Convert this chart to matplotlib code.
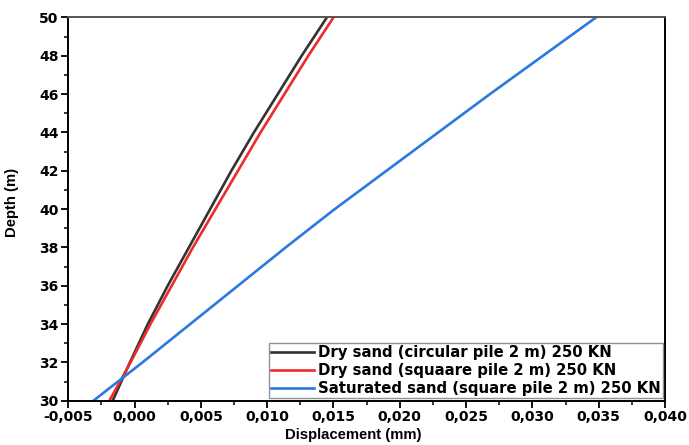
import numpy as np
import matplotlib
matplotlib.use("Agg")
import matplotlib.pyplot as plt
from matplotlib.ticker import MultipleLocator, FuncFormatter

# Depth (m) and displacement (mm) for each case
depth = [30, 32, 34, 36, 38, 40, 42, 44, 46, 48, 50]
dry_circular = [-0.00165, -0.00035, 0.0010, 0.0025, 0.0041, 0.0057,
                0.0073, 0.0090, 0.0108, 0.0126, 0.0145]
dry_square = [-0.0019, -0.0003, 0.0012, 0.0028, 0.0044, 0.0061,
              0.0078, 0.0095, 0.0113, 0.0131, 0.0150]
saturated_square = [-0.0031, 0.0006, 0.0042, 0.0078, 0.0114, 0.0151,
                    0.0190, 0.0229, 0.0268, 0.0308, 0.0348]

labels = [
    "Dry sand (circular pile 2 m) 250 KN",
    "Dry sand (squaare pile 2 m) 250 KN",
    "Saturated sand (square pile 2 m) 250 KN",
]
colors = ["#333333", "#ee2b2b", "#2a78e0"]

plt.rcParams["font.family"] = ["DejaVu Sans"]
plt.rcParams["font.weight"] = "bold"

fig = plt.figure(figsize=(6.89, 4.45), dpi=100)
ax = fig.add_axes([0.0991, 0.0996, 0.8661, 0.8613])

for xs, lab, c in zip([dry_circular, dry_square, saturated_square], labels, colors):
    ax.plot(xs, depth, color=c, linewidth=1.9, label=lab)

ax.set_xlim(-0.005, 0.040)
ax.set_ylim(30, 50)

ax.xaxis.set_major_locator(MultipleLocator(0.005))
ax.xaxis.set_minor_locator(MultipleLocator(0.0025))
ax.yaxis.set_major_locator(MultipleLocator(2))
ax.yaxis.set_minor_locator(MultipleLocator(1))
ax.xaxis.set_major_formatter(FuncFormatter(lambda v, p: f"{v:.3f}".replace(".", ",").replace("\u2212", "-")))
ax.yaxis.set_major_formatter(FuncFormatter(lambda v, p: f"{v:.0f}"))

ax.tick_params(axis="both", which="major", direction="out", length=5, width=1.3,
               labelsize=10, pad=2)
ax.tick_params(axis="both", which="minor", direction="out", length=3, width=1.1)
for lbl in ax.get_xticklabels() + ax.get_yticklabels():
    lbl.set_fontweight("bold")

for side in ["left", "bottom", "right"]:
    ax.spines[side].set_linewidth(1.4)
    ax.spines[side].set_color("black")
ax.spines["top"].set_linewidth(1.4)
ax.spines["top"].set_color("#555555")

ax.set_xlabel("Displacement (mm)", fontsize=10.7, fontweight="bold",
              family="Liberation Sans")
ax.set_ylabel("Depth (m)", fontsize=10.7, fontweight="bold",
              family="Liberation Sans")
ax.xaxis.set_label_coords(0.477, -0.072)
ax.yaxis.set_label_coords(-0.082, 0.517)

leg = ax.legend(loc="lower right", borderaxespad=0.15, fontsize=10.7, frameon=True,
                fancybox=False, edgecolor="#777777", handlelength=2.9,
                handletextpad=0.25, borderpad=0.15, labelspacing=0.2)
leg.get_frame().set_linewidth(1.0)
for t in leg.get_texts():
    t.set_fontweight("bold")

fig.savefig("out.png", dpi=100, facecolor="white")
